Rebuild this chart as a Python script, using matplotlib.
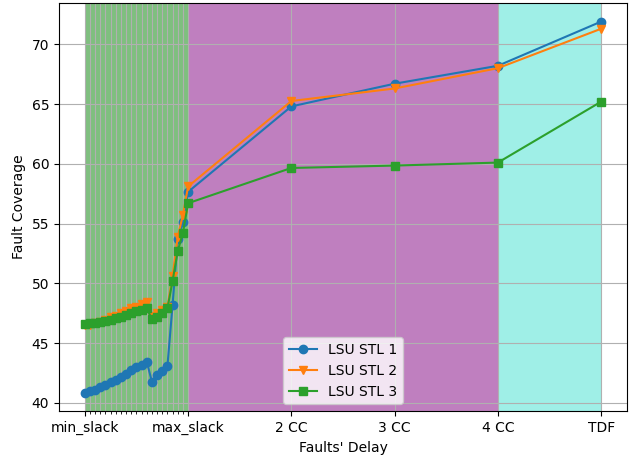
import numpy as np
from matplotlib import pyplot as plt

# x positions: 21 points between min_slack (0) and max_slack (1), then 2 CC, 3 CC, 4 CC, TDF
slack_steps = 20
tick_labels = ['min_slack', 'max_slack', '2 CC', '3 CC', '4 CC', 'TDF']

stl1 = [40.85, 41.0, 41.1, 41.3, 41.45, 41.7, 41.95, 42.2, 42.45, 42.75, 43.0, 43.15, 43.45,
        41.75, 42.3, 42.7, 43.05, 48.2, 53.7, 55.1, 57.65,
        64.8, 66.7, 68.2, 71.9]
stl2 = [46.5, 46.55, 46.65, 46.8, 46.95, 47.15, 47.3, 47.5, 47.7, 47.9, 48.05, 48.25, 48.45,
        47.3, 47.5, 47.8, 48.0, 50.6, 53.9, 55.7, 58.1,
        65.25, 66.3, 68.0, 71.3]
stl3 = [46.6, 46.65, 46.7, 46.75, 46.85, 46.95, 47.1, 47.2, 47.35, 47.5, 47.65, 47.8, 47.9,
        47.0, 47.2, 47.55, 47.9, 50.2, 52.7, 54.2, 56.7,
        59.65, 59.85, 60.1, 65.2]


def main():
    x = list(np.arange(slack_steps + 1) / slack_steps) + [2, 3, 4, 5]

    fig, ax = plt.subplots(figsize=(6.34, 4.61), dpi=100)
    fig.subplots_adjust(left=0.093, right=0.989, top=0.9935, bottom=0.108)

    ax.axvspan(0, 1, color='green', alpha=0.5, lw=0)
    ax.axvspan(1, 4, color='purple', alpha=0.5, lw=0)
    ax.axvspan(4, 5, color='turquoise', alpha=0.5, lw=0)

    ax.plot(x, stl1, marker='o', label='LSU STL 1')
    ax.plot(x, stl2, marker='v', label='LSU STL 2')
    ax.plot(x, stl3, marker='s', label='LSU STL 3')

    ax.set_xticks(range(len(tick_labels)), tick_labels)
    ax.set_xticks(np.arange(1, slack_steps) / slack_steps, minor=True)
    ax.grid(which='both')

    ax.set_xlabel("Faults' Delay")
    ax.set_ylabel('Fault Coverage')
    ax.legend(loc='lower center')

    plt.savefig('out.png', dpi=100)


if __name__ == "__main__":
    main()
